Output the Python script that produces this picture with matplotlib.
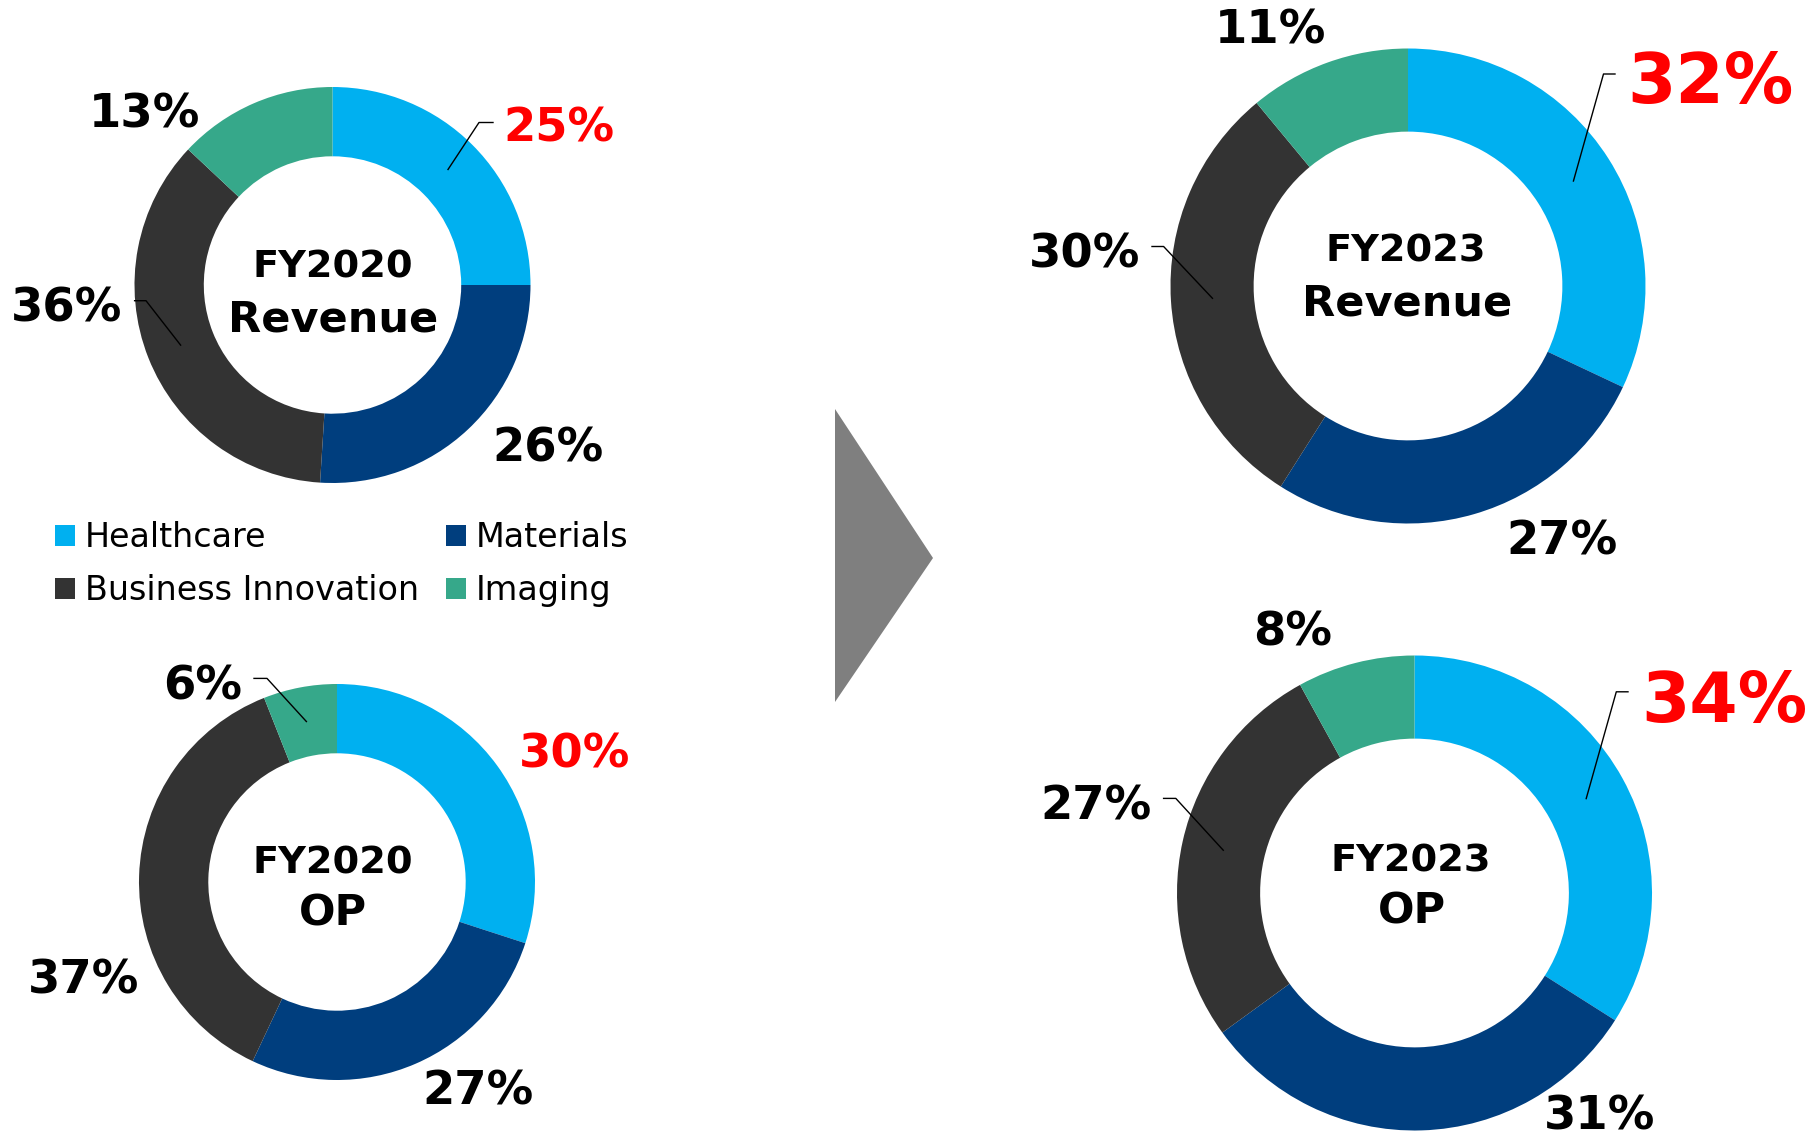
import matplotlib
matplotlib.use("Agg")
import matplotlib.pyplot as plt
from matplotlib.patches import Polygon
import numpy as np

# segment shares (%)
segments = ["Healthcare", "Materials", "Business Innovation", "Imaging"]
rev_2020 = [25, 26, 36, 13]
op_2020 = [30, 27, 37, 6]
rev_2023 = [32, 27, 30, 11]
op_2023 = [34, 31, 27, 8]

colors = ["#00B0F0", "#003E7E", "#333333", "#36A88A"]
red = "#FF0000"

W, H = 1820, 1141
fig = plt.figure(figsize=(W / 100, H / 100), dpi=100)
ax = fig.add_axes([0, 0, 1, 1])


def fy(y):
    # pixel row (from top) -> data y
    return H - y


# layout of each donut: centre, radius, centre title lines, label spots, leaders
charts = [
    dict(vals=rev_2020, c=(332.5, 285), r=198,
         title=[("FY2020", 333, 278, 27.5), ("Revenue", 333, 332, 31)],
         labels=[(559, 142), (548, 462), (67, 322), (145, 128)],
         sizes=[33.5, 33.5, 33.5, 33.5],
         leaders={0: [(493, 122.5), (479, 122.5)], 2: [(134.6, 300.7), (146, 300.7)]}),
    dict(vals=op_2020, c=(337, 882), r=198,
         title=[("FY2020", 333, 873.5, 27.5), ("OP", 333, 926, 31)],
         labels=[(574.5, 767.5), (478, 1104.5), (83.5, 993.5), (202.5, 699)],
         sizes=[33.5, 33.5, 33.5, 33.5],
         leaders={3: [(254, 678.4), (267, 678.4)]}),
    dict(vals=rev_2023, c=(1408, 286), r=237.5,
         title=[("FY2023", 1406, 262, 27.5), ("Revenue", 1407, 316, 31)],
         labels=[(1710, 103.3), (1562.5, 554.5), (1085, 267), (1270, 43)],
         sizes=[50, 33.5, 33.5, 33.5],
         leaders={0: [(1615, 74), (1603.5, 74)], 2: [(1152, 246.5), (1163.6, 246.5)]}),
    dict(vals=op_2023, c=(1414.5, 893), r=237.5,
         title=[("FY2023", 1411, 871, 27.5), ("OP", 1412, 923, 31)],
         labels=[(1724, 722), (1600, 1129), (1096, 820), (1293, 645)],
         sizes=[50, 33.5, 33.5, 33.5],
         leaders={0: [(1628, 691.8), (1616.3, 691.8)], 2: [(1163.6, 798.4), (1175.8, 798.4)]}),
]

hole = 0.65
handles = None
for ch in charts:
    cx, cy = ch["c"]
    r = ch["r"]
    wedges, _ = ax.pie(ch["vals"], colors=colors, startangle=90, counterclock=False,
                       radius=r, center=(cx, fy(cy)),
                       wedgeprops=dict(width=r * (1 - hole), linewidth=0))
    if handles is None:
        handles = wedges

    for txt, tx, ty, fs in ch["title"]:
        ax.text(tx, fy(ty), txt, ha="center", va="baseline", fontsize=fs,
                fontweight="bold", color="black")

    vals = np.array(ch["vals"], dtype=float)
    mids = (np.cumsum(vals) - vals / 2) / vals.sum() * 2 * np.pi
    rm = r * (1 + hole) / 2
    for i, v in enumerate(ch["vals"]):
        lx, ly = ch["labels"][i]
        col = red if i == 0 else "black"
        ax.text(lx, fy(ly), f"{v}%", ha="center", va="baseline",
                fontsize=ch["sizes"][i], fontweight="bold", color=col)
        if i in ch["leaders"]:
            (x0, y0), (x1, y1) = ch["leaders"][i]
            ex = cx + rm * np.sin(mids[i])
            ey = cy - rm * np.cos(mids[i])
            ax.plot([x0, x1, ex], [fy(y0), fy(y1), fy(ey)], color="black", lw=1.0)

# arrow between years
ax.add_patch(Polygon([(835, fy(409)), (835, fy(702)), (933, fy(558))],
                     closed=True, facecolor="#7F7F7F", edgecolor="none"))

order = [0, 2, 1, 3]
ax.legend([handles[i] for i in order], [segments[i] for i in order],
          ncol=2, loc="upper left", bbox_to_anchor=(55 / W, 1 - 521 / H),
          bbox_transform=fig.transFigure, frameon=False, fontsize=24,
          handlelength=0.6, handleheight=0.6, handletextpad=0.3,
          columnspacing=0.8, labelspacing=0.6, borderpad=0, borderaxespad=0)

ax.set_xlim(0, W)
ax.set_ylim(0, H)
ax.set_aspect("equal")
ax.axis("off")

fig.savefig("out.png", dpi=100, facecolor="white")
